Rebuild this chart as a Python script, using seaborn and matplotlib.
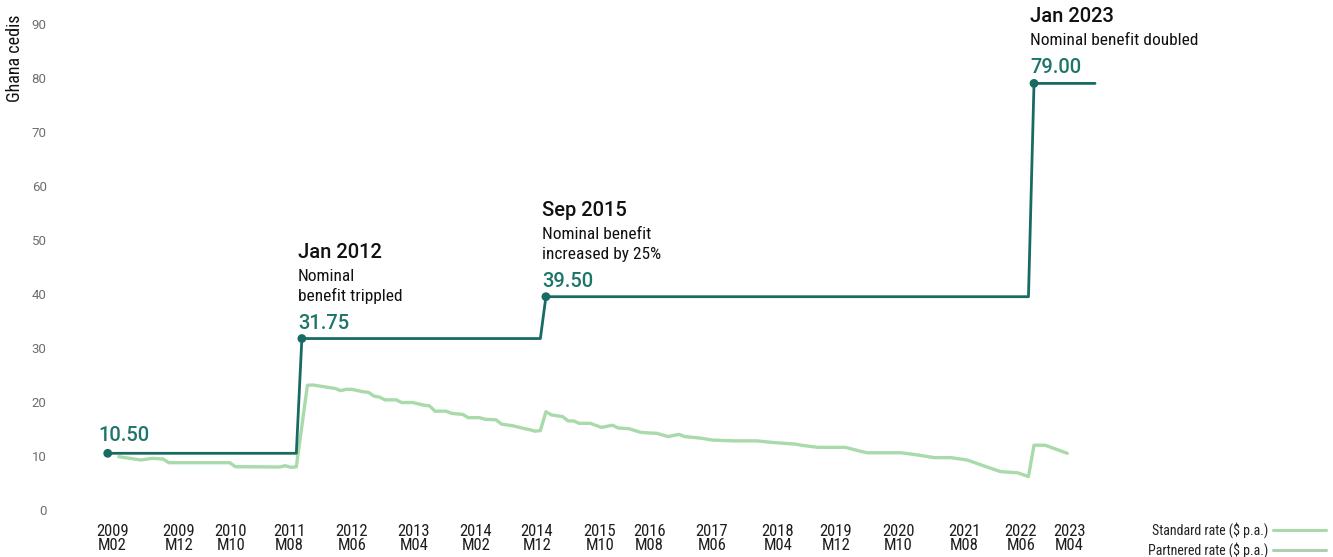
import numpy as np
import pandas as pd
import matplotlib
matplotlib.use("Agg")
import matplotlib.pyplot as plt
from matplotlib.lines import Line2D
import seaborn as sns

# Nominal benefit (Ghana cedis): level in force from each date onward
nominal_dates = ["2009-02", "2012-01", "2015-09", "2023-01"]
nominal_levels = [10.50, 31.75, 39.50, 79.00]
nominal_end = "2023-12"
nominal_titles = ["", "Jan 2012", "Sep 2015", "Jan 2023"]
nominal_notes = [[], ["Nominal", "benefit trippled"],
                 ["Nominal benefit", "increased by 25%"],
                 ["Nominal benefit doubled"]]

# Real value of the benefit
real_dates = [
    "2009-04", "2009-08", "2009-10", "2009-12", "2010-01", "2010-12", "2011-01",
    "2011-09", "2011-10", "2011-11", "2011-12", "2012-02", "2012-03", "2012-07",
    "2012-08", "2012-09", "2012-10", "2012-12", "2013-01", "2013-02", "2013-03",
    "2013-04", "2013-06", "2013-07", "2013-09", "2013-11", "2013-12", "2014-01",
    "2014-03", "2014-04", "2014-06", "2014-07", "2014-09", "2014-10", "2014-12",
    "2015-01", "2015-03", "2015-05", "2015-06", "2015-07", "2015-08", "2015-09",
    "2015-10", "2015-12", "2016-01", "2016-02", "2016-03", "2016-05", "2016-07",
    "2016-09", "2016-10", "2016-12", "2017-02", "2017-03", "2017-05", "2017-07",
    "2017-09", "2017-10", "2018-01", "2018-03", "2018-07", "2018-11", "2019-02",
    "2019-06", "2019-07", "2019-10", "2020-03", "2020-06", "2020-07", "2021-01",
    "2021-04", "2021-07", "2021-10", "2022-01", "2022-04", "2022-07", "2022-10",
    "2022-12", "2023-01", "2023-03", "2023-07",
]
real_values = [
    9.87, 9.26, 9.57, 9.44, 8.76, 8.76, 8.02,
    7.96, 8.20, 7.90, 8.00, 23.10, 23.15, 22.50,
    22.10, 22.35, 22.35, 21.90, 21.80, 21.10, 20.90,
    20.40, 20.40, 19.90, 19.90, 19.40, 19.30, 18.30,
    18.30, 17.90, 17.70, 17.10, 17.10, 16.80, 16.70,
    15.90, 15.60, 15.10, 14.90, 14.60, 14.70, 18.20,
    17.60, 17.30, 16.50, 16.50, 16.05, 16.05, 15.30,
    15.70, 15.20, 15.05, 14.40, 14.30, 14.20, 13.60,
    14.00, 13.60, 13.30, 12.95, 12.80, 12.80, 12.50,
    12.20, 12.00, 11.60, 11.60, 10.80, 10.60, 10.60,
    10.20, 9.70, 9.70, 9.25, 8.15, 7.10, 6.90,
    6.20, 12.00, 12.00, 10.50,
]

tick_labels = ["2009\nM02", "2009\nM12", "2010\nM10", "2011\nM08", "2012\nM06",
               "2013\nM04", "2014\nM02", "2014\nM12", "2015\nM10", "2016\nM08",
               "2017\nM06", "2018\nM04", "2019\nM12", "2020\nM10", "2021\nM08",
               "2022\nM06", "2023\nM04"]
# where each category label sits along the month axis
tick_positions = [0.8, 12.8, 22.2, 32.8, 44.0, 55.2, 66.4, 77.4, 88.7, 97.6,
                  108.9, 120.8, 131.3, 142.5, 154.4, 164.6, 173.4]
y_ticks = [0, 10, 20, 30, 40, 50, 60, 70, 80, 90]
legend_labels = ["Standard rate ($ p.a.)", "Partnered rate ($ p.a.)"]

DARK = "#186b62"
TEAL = "#1e766b"
LIGHT = "#a8daaa"
LIGHT2 = "#a9d2ae"

COND = ["Roboto Condensed", "Liberation Sans Narrow", "DejaVu Sans Condensed", "Roboto"]
REG = ["Roboto", "DejaVu Sans"]

sns.set_theme(style="white")
plt.rcParams["font.family"] = REG

start = pd.Period(nominal_dates[0], "M")


def month_index(d):
    return (pd.Period(d, "M") - start).n


# Monthly nominal series built from the step levels
months = pd.period_range(nominal_dates[0], nominal_end, freq="M")
nominal = pd.Series(np.nan, index=months)
for d, v in zip(nominal_dates, nominal_levels):
    nominal[pd.Period(d, "M")] = v
nominal = nominal.ffill()
nom_df = pd.DataFrame({"m": [(p - start).n for p in months], "value": nominal.values})

real_df = pd.DataFrame({"m": [month_index(d) for d in real_dates], "value": real_values})

W, H = 1333, 557
fig = plt.figure(figsize=(W / 100, H / 100), dpi=100)
ax = fig.add_axes([80 / W, (H - 510) / H, 1030 / W, 486 / H])

sns.lineplot(data=real_df, x="m", y="value", ax=ax, color=LIGHT, linewidth=2.4,
             solid_joinstyle="round", clip_on=False)
sns.lineplot(data=nom_df, x="m", y="value", ax=ax, color=DARK, linewidth=2.0,
             clip_on=False)

pts = pd.DataFrame({"m": [month_index(d) for d in nominal_dates], "value": nominal_levels})
sns.scatterplot(data=pts, x="m", y="value", ax=ax, color=DARK, s=40,
                edgecolor="none", zorder=5, clip_on=False)

ax.set_xlim(-5.0, 180.7)
ax.set_ylim(0, 90)
sns.despine(ax=ax, left=True, bottom=True)

ax.set_yticks(y_ticks)
ax.set_yticklabels([str(t) for t in y_ticks], fontsize=9.5, color="#6e6e6e", family=REG)
ax.tick_params(axis="y", length=0, pad=24)

ax.set_xticks(tick_positions)
ax.set_xticklabels(tick_labels, fontsize=12, color="#1e1e1e", family=COND,
                   linespacing=0.92)
ax.tick_params(axis="x", length=0, pad=10)
ax.set_xlabel("")
ax.set_ylabel("")
ax.grid(False)

fig.text(15 / W, 1 - 15 / H, "Ghana cedis", rotation=90, ha="center", va="top",
         fontsize=13, color="#111111", family=COND)

# Step annotations: title, notes and the new level above each dot
for d, v, title, notes in zip(nominal_dates, nominal_levels, nominal_titles, nominal_notes):
    x = month_index(d)
    if not title:
        ax.annotate(f"{v:.2f}", (x, v), xytext=(-9, 12), textcoords="offset pixels",
                    ha="left", va="baseline", fontsize=14.5, color=TEAL,
                    family=REG, fontweight="medium")
        continue
    ax.annotate(f"{v:.2f}", (x, v), xytext=(-4, 10), textcoords="offset pixels",
                ha="left", va="baseline", fontsize=14.5, color=TEAL,
                family=REG, fontweight="medium")
    y_off = 38
    for line in reversed(notes):
        ax.annotate(line, (x, v), xytext=(-4, y_off), textcoords="offset pixels",
                    ha="left", va="baseline", fontsize=12.5, color="#111111", family=COND)
        y_off += 20
    ax.annotate(title, (x, v), xytext=(-4, y_off + 3), textcoords="offset pixels",
                ha="left", va="baseline", fontsize=14.5, color="#111111",
                family=REG, fontweight="medium")

handles = [Line2D([], [], color=LIGHT, linewidth=2.2),
           Line2D([], [], color=LIGHT2, linewidth=2.2)]
leg = fig.legend(handles, legend_labels, loc="upper right",
                 bbox_to_anchor=(1326 / W, 1 - 522 / H), frameon=False,
                 markerfirst=False, handlelength=3.8, handletextpad=0.35,
                 labelspacing=0.3, borderpad=0, borderaxespad=0,
                 prop={"family": COND, "size": 10})
for t in leg.get_texts():
    t.set_color("#222222")

fig.savefig("out.png", dpi=100)
